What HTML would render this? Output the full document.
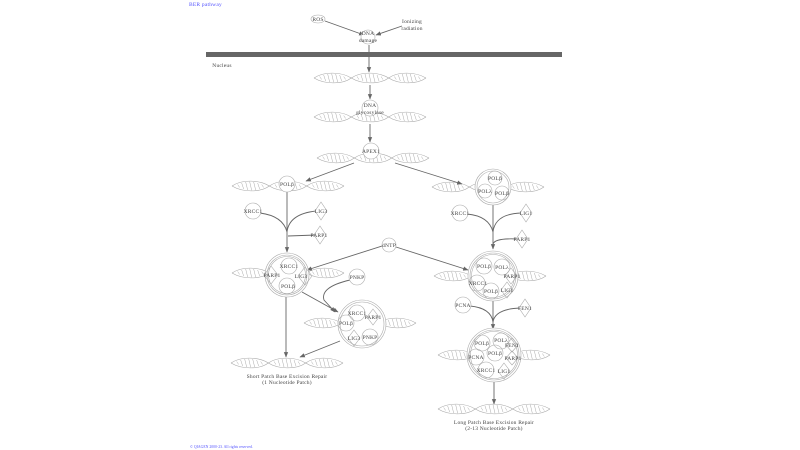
<!DOCTYPE html>
<html><head><meta charset="utf-8"><style>
html,body{margin:0;padding:0;background:#fff;width:800px;height:450px;overflow:hidden}
svg{display:block}
text{font-family:"Liberation Serif",serif;font-size:5.5px;fill:#444;text-anchor:middle;letter-spacing:0.2px}
.b{fill:#55f;text-anchor:start}
</style></head><body>
<svg width="800" height="450" viewBox="0 0 800 450" xmlns="http://www.w3.org/2000/svg">
<defs>
<g id="lobe" stroke="#aaa" stroke-width="0.5" fill="none">
<path d="M-13 -1.5 L-11 1.5 M-9 -3 L-7 3 M-5 -4 L-3 4 M-1 -4.3 L1 4.3 M3 -4 L5 4 M7 -3 L9 3 M11 -1.5 L13 1.5"/>
</g>
<g id="helix" fill="none" stroke="#aaa" stroke-width="0.6">
<path d="M-56 0 C-46 -7 -28 -6 -18.67 0 C-9 -7 9 -6 18.67 0 C28 -7 46 -6 56 0"/>
<path d="M-56 0 C-46 6 -28 7 -18.67 0 C-9 6 9 7 18.67 0 C28 6 46 7 56 0"/>
<use href="#lobe" x="-37.33"/><use href="#lobe" x="0"/><use href="#lobe" x="37.33"/>
</g>
<marker id="ar" viewBox="0 0 10 10" refX="9" refY="5" markerWidth="6" markerHeight="6" orient="auto"><path d="M0 1 L10 5 L0 9 z" fill="#666"/></marker>
</defs>

<text class="b" x="189" y="6" font-size="6">BER pathway</text>
<text class="b" x="190" y="448" style="font-size:3.8px;letter-spacing:0">© QIAGEN 2000-23. All rights reserved.</text>

<use href="#helix" x="370" y="78"/>
<use href="#helix" x="370" y="117"/>
<use href="#helix" x="373" y="158"/>
<use href="#helix" x="288" y="186"/>
<use href="#helix" x="488" y="187"/>
<use href="#helix" x="288" y="273"/>
<use href="#helix" x="490" y="276"/>
<use href="#helix" x="360" y="323"/>
<use href="#helix" x="494" y="355"/>
<use href="#helix" x="287" y="363"/>
<use href="#helix" x="494" y="409"/>

<g stroke="#666" stroke-width="0.9" fill="none">
<path d="M325 21 L364 35" marker-end="url(#ar)"/>
<path d="M402 26 L376 35" marker-end="url(#ar)"/>
<path d="M369 45 L369 72" marker-end="url(#ar)"/>
<path d="M370 85 L370 99" marker-end="url(#ar)"/>
<path d="M370 124 L370 142" marker-end="url(#ar)"/>
<path d="M354 163 L306 181" marker-end="url(#ar)"/>
<path d="M395 163 L462 184" marker-end="url(#ar)"/>
<path d="M287 192 L287 252" marker-end="url(#ar)"/>
<path d="M260 213 Q283 216 287 232 Q289 214 316 211"/>
<path d="M288 236 L316 235"/>
<path d="M382 246 L307 270" marker-end="url(#ar)"/>
<path d="M396 247 L468 270" marker-end="url(#ar)"/>
<path d="M350 280 Q320 287 324 300 L335 312" marker-end="url(#ar)"/>
<path d="M302 292 L338 312" marker-end="url(#ar)"/>
<path d="M286 297 L286 357" marker-end="url(#ar)"/>
<path d="M340 341 L300 357" marker-end="url(#ar)"/>
<path d="M493 205 L493 249" marker-end="url(#ar)"/>
<path d="M467 214 Q489 216 493 232 Q495 214 521 213"/>
<path d="M493 244 Q495 238 517 239"/>
<path d="M470 306 Q491 308 493 322 Q495 309 520 308"/>
<path d="M493 301 L493 329" marker-end="url(#ar)"/>
<path d="M494 382 L494 404" marker-end="url(#ar)"/>
</g>

<rect x="206" y="52" width="356" height="5" fill="#666"/>
<text x="222" y="67">Nucleus</text>

<g fill="#fff" stroke="#aaa" stroke-width="0.6">
<ellipse cx="318" cy="19" rx="7" ry="4"/>
<circle cx="368" cy="37" r="7"/>
<circle cx="370" cy="108" r="8"/>
<circle cx="371" cy="151" r="8"/>
<circle cx="287" cy="184" r="8"/>
<circle cx="253" cy="211" r="8"/>
<path d="M321 202 L327 211 L321 220 L315 211 Z"/>
<path d="M320 226 L326 235 L320 244 L314 235 Z"/>
<circle cx="389" cy="245" r="7"/>
<circle cx="357" cy="277" r="8"/>
<circle cx="460" cy="213" r="8"/>
<path d="M526 204 L532 213 L526 222 L520 213 Z"/>
<path d="M522 230 L528 239 L522 248 L516 239 Z"/>
<circle cx="463" cy="305" r="8"/>
<path d="M525 299 L531 308 L525 317 L519 308 Z"/>
<circle cx="287" cy="275" r="22"/><circle cx="287" cy="275" r="20"/><circle cx="287" cy="275" r="18.5"/>
<circle cx="362" cy="324" r="24"/><circle cx="362" cy="324" r="22"/>
<circle cx="493" cy="187" r="18"/><circle cx="493" cy="187" r="16"/>
<circle cx="493" cy="276" r="25"/><circle cx="493" cy="276" r="23"/><circle cx="493" cy="276" r="21.5"/>
<circle cx="494" cy="355" r="27"/><circle cx="494" cy="355" r="25"/><circle cx="494" cy="355" r="23.5"/>
</g>
<g fill="none" stroke="#aaa" stroke-width="0.6">
<circle cx="289" cy="266" r="8"/><path d="M271 266 L278 275 L271 284 L264 275 Z"/><path d="M305 267 L312 276 L305 285 L298 276 Z"/><circle cx="287" cy="286" r="8"/>
<circle cx="357" cy="313" r="8"/><path d="M373 309 L379 317 L373 325 L367 317 Z"/><circle cx="346" cy="323" r="8"/><path d="M354 330 L360 338 L354 346 L348 338 Z"/><circle cx="370" cy="337" r="8"/>
<circle cx="495" cy="178" r="7"/><circle cx="485" cy="191" r="7"/><circle cx="502" cy="193" r="7"/>
<circle cx="484" cy="266" r="8"/><circle cx="502" cy="267" r="8"/><path d="M511 268 L517 276 L511 284 L505 276 Z"/><circle cx="477" cy="283" r="8"/><circle cx="491" cy="291" r="8"/><path d="M507 282 L513 290 L507 298 L501 290 Z"/>
<circle cx="482" cy="343" r="8"/><circle cx="501" cy="341" r="8"/><path d="M512 338 L518 345 L512 352 L506 345 Z"/><circle cx="476" cy="357" r="8"/><circle cx="495" cy="353" r="8"/><path d="M512 351 L518 358 L512 365 L506 358 Z"/><circle cx="486" cy="370" r="8"/><path d="M504 363 L510 371 L504 379 L498 371 Z"/>
</g>

<g>
<text x="318" y="21">ROS</text>
<text x="368" y="35">DNA</text><text x="368" y="42">damage</text>
<text x="412" y="23">Ionizing</text><text x="412" y="30">radiation</text>
<text x="370" y="107">DNA</text><text x="370" y="114">glycosylase</text>
<text x="371" y="153">APEX1</text>
<text x="287" y="186">POLβ</text>
<text x="253" y="213">XRCC1</text>
<text x="321" y="213">LIG3</text>
<text x="319" y="237">PARP1</text>
<text x="389" y="247">dNTP</text>
<text x="357" y="279">PNKP</text>
<text x="289" y="268">XRCC1</text><text x="272" y="277">PARP1</text><text x="301" y="278">LIG3</text><text x="288" y="288">POLβ</text>
<text x="357" y="315">XRCC1</text><text x="373" y="319">PARP1</text><text x="346" y="325">POLβ</text><text x="354" y="340">LIG3</text><text x="370" y="339">PNKP</text>
<text x="287" y="378">Short Patch Base Excision Repair</text><text x="287" y="384">(1 Nucleotide Patch)</text>
<text x="495" y="180">POLβ</text><text x="485" y="193">POLλ</text><text x="502" y="195">POLβ</text>
<text x="460" y="215">XRCC1</text><text x="526" y="215">LIG1</text><text x="522" y="241">PARP1</text>
<text x="484" y="268">POLβ</text><text x="502" y="269">POLλ</text><text x="512" y="278">PARP1</text><text x="478" y="285">XRCC1</text><text x="491" y="293">POLβ</text><text x="507" y="292">LIG1</text>
<text x="463" y="307">PCNA</text><text x="525" y="310">FEN1</text>
<text x="482" y="345">POLβ</text><text x="501" y="342">POLλ</text><text x="512" y="347">FEN1</text><text x="476" y="359">PCNA</text><text x="495" y="355">POLβ</text><text x="513" y="360">PARP1</text><text x="486" y="372">XRCC1</text><text x="504" y="373">LIG1</text>
<text x="494" y="424">Long Patch Base Excision Repair</text><text x="494" y="430">(2-13 Nucleotide Patch)</text>
</g>
</svg>
</body></html>
